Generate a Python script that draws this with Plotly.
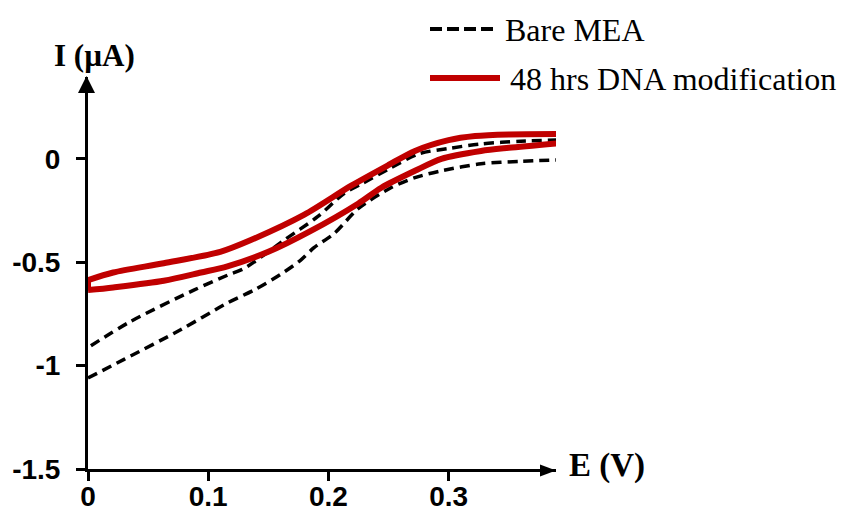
import plotly.graph_objects as go

# Cyclic voltammograms: potential E (V) vs current I (µA)
# Bare MEA
bare_fwd_E = [0.0, 0.03, 0.077, 0.116, 0.138, 0.16, 0.177, 0.188, 0.205, 0.225,
              0.252, 0.272, 0.294, 0.327, 0.36, 0.391]
bare_fwd_I = [-1.06, -0.97, -0.827, -0.697, -0.635, -0.56, -0.49, -0.43, -0.36, -0.24,
              -0.14, -0.091, -0.058, -0.024, -0.012, -0.005]
bare_rev_E = [0.391, 0.36, 0.327, 0.3, 0.275, 0.25, 0.228, 0.213, 0.191, 0.163,
              0.13, 0.116, 0.088, 0.035, 0.0]
bare_rev_I = [0.091, 0.085, 0.072, 0.05, 0.024, -0.05, -0.12, -0.168, -0.28, -0.394,
              -0.53, -0.563, -0.635, -0.788, -0.913]

# 48 hrs DNA modification
dna_fwd_E = [0.0, 0.021, 0.063, 0.094, 0.116, 0.15, 0.185, 0.225, 0.244, 0.272,
             0.294, 0.327, 0.35, 0.391]
dna_fwd_I = [-0.635, -0.622, -0.59, -0.55, -0.52, -0.45, -0.35, -0.216, -0.14, -0.058,
             0.0, 0.038, 0.053, 0.075]
dna_rev_E = [0.391, 0.35, 0.322, 0.3, 0.272, 0.25, 0.219, 0.18, 0.135, 0.11,
             0.063, 0.021, 0.0]
dna_rev_I = [0.12, 0.118, 0.11, 0.09, 0.038, -0.03, -0.13, -0.27, -0.394, -0.45,
             -0.505, -0.55, -0.587]

x_ticks = [0, 0.1, 0.2, 0.3]
x_tick_text = ["0", "0.1", "0.2", "0.3"]
y_ticks = [-1.5, -1, -0.5, 0]
y_tick_text = ["-1.5", "-1", "-0.5", "0"]

series_names = ["Bare MEA", "48 hrs DNA modification"]
RED = "#C00000"

W, H = 844, 516
L, R, T, B = 88, 556, 77, 469


def px_x(p):
    return (p - L) / (R - L)


def px_y(p):
    return (B - p) / (B - T)


fig = go.Figure()

fig.add_trace(go.Scatter(
    x=bare_fwd_E + [None] + bare_rev_E,
    y=bare_fwd_I + [None] + bare_rev_I,
    mode="lines", name=series_names[0], showlegend=False,
    line=dict(color="black", width=3.5, dash="10px,6px", shape="spline", smoothing=0.8),
))
fig.add_trace(go.Scatter(
    x=dna_fwd_E + [None] + dna_rev_E,
    y=dna_fwd_I + [None] + dna_rev_I,
    mode="lines", name=series_names[1], showlegend=False,
    line=dict(color=RED, width=6, shape="spline", smoothing=0.8),
))
# reverse sweep joining the start of the next cycle at E = 0
fig.add_trace(go.Scatter(
    x=[dna_rev_E[-1], dna_fwd_E[0]], y=[dna_rev_I[-1], dna_fwd_I[0]],
    mode="lines", showlegend=False, line=dict(color=RED, width=6),
))

tick_font = dict(family="Liberation Sans, Arial", size=28, color="black", weight="bold")

fig.update_xaxes(
    range=[0, (R - L) / 1202], showline=True, linewidth=3, linecolor="black",
    ticks="outside", ticklen=9, tickwidth=3, tickcolor="black",
    tickvals=x_ticks, ticktext=x_tick_text, tickfont=tick_font,
    showgrid=False, zeroline=False, ticklabelstandoff=-9, automargin=False,
)
fig.update_yaxes(
    range=[-1.5, -1.5 + (B - T) / 206.8], showline=True, linewidth=3, linecolor="black",
    ticks="outside", ticklen=9, tickwidth=3, tickcolor="black",
    tickvals=y_ticks, ticktext=y_tick_text, tickfont=tick_font,
    showgrid=False, zeroline=False, ticklabelstandoff=10, automargin=False,
)

shapes = [
    # arrowhead on the current axis
    dict(type="path", xref="paper", yref="paper", xsizemode="pixel", ysizemode="pixel",
         xanchor=0, yanchor=1, path="M -10,-16 L -1.5,1 L 7,-16 Z",
         fillcolor="black", line=dict(width=0)),
    # arrowhead on the potential axis
    dict(type="path", xref="paper", yref="paper", xsizemode="pixel", ysizemode="pixel",
         xanchor=1, yanchor=0, path="M -16,4.5 L 0,-1.5 L -16,-7.5 Z",
         fillcolor="black", line=dict(width=0)),
    # legend samples
    dict(type="line", xref="paper", yref="paper",
         x0=px_x(430), x1=px_x(495), y0=px_y(29), y1=px_y(29),
         line=dict(color="black", width=4, dash="12px,5px")),
    dict(type="line", xref="paper", yref="paper",
         x0=px_x(430), x1=px_x(500), y0=px_y(78), y1=px_y(78),
         line=dict(color=RED, width=6)),
]

serif = "Liberation Serif, Times New Roman"
annotations = [
    dict(text="I (µA)", xref="paper", yref="paper", x=px_x(52), y=px_y(56),
         xanchor="left", yanchor="middle", showarrow=False,
         font=dict(family=serif, size=31, color="black", weight="bold")),
    dict(text="E (V)", xref="paper", yref="paper", x=px_x(567), y=px_y(465),
         xanchor="left", yanchor="middle", showarrow=False,
         font=dict(family=serif, size=33, color="black", weight="bold")),
    dict(text=series_names[0], xref="paper", yref="paper", x=px_x(503), y=px_y(30),
         xanchor="left", yanchor="middle", showarrow=False,
         font=dict(family=serif, size=32, color="black")),
    dict(text=series_names[1], xref="paper", yref="paper", x=px_x(508), y=px_y(79),
         xanchor="left", yanchor="middle", showarrow=False,
         font=dict(family=serif, size=32, color="black")),
]

fig.update_layout(
    width=W, height=H,
    margin=dict(l=L, r=W - R, t=T, b=H - B, pad=0, autoexpand=False),
    paper_bgcolor="white", plot_bgcolor="white",
    shapes=shapes, annotations=annotations, showlegend=False,
)

fig.write_html("out.html")
